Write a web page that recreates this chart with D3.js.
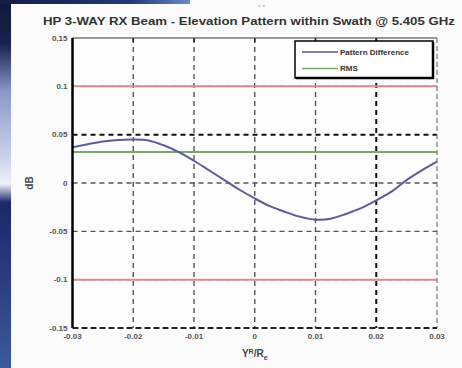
<!DOCTYPE html>
<html>
<head>
<meta charset="utf-8">
<script src="https://cdn.jsdelivr.net/npm/d3@7"></script>
<style>
  body { margin: 0; background: #fbfbfb; }
  text { font-family: "Liberation Sans", Arial, sans-serif; }
</style>
</head>
<body>
<div id="chart"></div>
<script>
// data
const xTicks = [-0.03, -0.02, -0.01, 0, 0.01, 0.02, 0.03];
const yTicks = [-0.15, -0.1, -0.05, 0, 0.05, 0.1, 0.15];
const xValues = [-0.03, -0.0275, -0.025, -0.0225, -0.02, -0.0175, -0.015, -0.0125, -0.01, -0.0075,
  -0.005, -0.0025, 0, 0.0025, 0.005, 0.0075, 0.01, 0.0125, 0.015, 0.0175, 0.02, 0.0225, 0.025, 0.0275, 0.03];
const patternDiff = [0.037, 0.040, 0.043, 0.0445, 0.045, 0.044, 0.039, 0.032, 0.023, 0.013,
  0.003, -0.007, -0.016, -0.024, -0.030, -0.035, -0.038, -0.037, -0.032, -0.026, -0.018, -0.009, 0.003, 0.013, 0.022];
const rmsValue = 0.032;
const limits = [0.1, -0.1];
const legendLabels = ["Pattern Difference", "RMS"];

const width = 462, height = 368;
const margin = { top: 38, right: 25, bottom: 40, left: 72.5 };

const svg = d3.select("#chart").append("svg")
  .attr("width", width)
  .attr("height", height);

// photo background edges (slide behind the plot)
const defs = svg.append("defs");
const lg = defs.append("linearGradient").attr("id", "edge").attr("x1", 0).attr("x2", 0).attr("y1", 0).attr("y2", 1);
[[0, "#101838"], [0.12, "#1a2250"], [0.25, "#8c98c8"], [0.42, "#c8d0e8"], [0.5, "#eef0f8"],
 [0.55, "#1c2868"], [0.75, "#2a3c80"], [1, "#3c5a9c"]].forEach(([o, c]) =>
  lg.append("stop").attr("offset", o).attr("stop-color", c));
const tg = defs.append("linearGradient").attr("id", "topEdge");
[[0, "#141c44"], [0.7, "#243a78"], [1, "#6a8cc8"]].forEach(([o, c]) =>
  tg.append("stop").attr("offset", o).attr("stop-color", c));

svg.append("rect").attr("x", 0).attr("y", 0).attr("width", 11).attr("height", height).attr("fill", "url(#edge)");
svg.append("rect").attr("x", 0).attr("y", 0).attr("width", 190).attr("height", 4).attr("fill", "url(#topEdge)");

const x = d3.scaleLinear().domain([-0.03, 0.03]).range([margin.left, width - margin.right]);
const y = d3.scaleLinear().domain([-0.15, 0.15]).range([height - margin.bottom, margin.top]);

// plot area
svg.append("rect")
  .attr("x", x(-0.03)).attr("y", y(0.15))
  .attr("width", x(0.03) - x(-0.03)).attr("height", y(-0.15) - y(0.15))
  .attr("fill", "#fdfdfd");

// grid
const grid = svg.append("g").attr("class", "grid");
grid.selectAll("line.v")
  .data(xTicks.slice(1, -1))
  .join("line")
    .attr("class", "v")
    .attr("x1", d => x(d)).attr("x2", d => x(d))
    .attr("y1", y(0.15)).attr("y2", y(-0.15))
    .attr("stroke", d => d === 0.02 ? "#111" : "#555")
    .attr("stroke-width", d => d === 0.02 ? 2 : 1.4)
    .attr("stroke-dasharray", "5,4");
grid.selectAll("line.h")
  .data(yTicks.slice(1, -1))
  .join("line")
    .attr("class", "h")
    .attr("x1", x(-0.03)).attr("x2", x(0.03))
    .attr("y1", d => y(d)).attr("y2", d => y(d))
    .attr("stroke", d => d === 0.05 ? "#111" : "#555")
    .attr("stroke-width", d => d === 0.05 ? 2 : 1.4)
    .attr("stroke-dasharray", "5,4");

// limit lines
svg.selectAll("line.limit")
  .data(limits)
  .join("line")
    .attr("class", "limit")
    .attr("x1", x(-0.03)).attr("x2", x(0.03))
    .attr("y1", d => y(d)).attr("y2", d => y(d))
    .attr("stroke", "#e48a8a")
    .attr("stroke-width", 2);

// RMS line
svg.append("line")
  .attr("x1", x(-0.03)).attr("x2", x(0.03))
  .attr("y1", y(rmsValue)).attr("y2", y(rmsValue))
  .attr("stroke", "#78a86c")
  .attr("stroke-width", 2);

// pattern difference curve
const line = d3.line()
  .x((d, i) => x(xValues[i]))
  .y(d => y(d))
  .curve(d3.curveCatmullRom);
svg.append("path")
  .datum(patternDiff)
  .attr("d", line)
  .attr("fill", "none")
  .attr("stroke", "#5c5c9c")
  .attr("stroke-width", 2);

// axes frame
svg.append("line").attr("x1", x(-0.03)).attr("x2", x(0.03)).attr("y1", y(0.15)).attr("y2", y(0.15))
  .attr("stroke", "#777").attr("stroke-width", 1.5);
svg.append("line").attr("x1", x(0.03)).attr("x2", x(0.03)).attr("y1", y(0.15)).attr("y2", y(-0.15))
  .attr("stroke", "#777").attr("stroke-width", 1.2).attr("stroke-dasharray", "5,3");
svg.append("line").attr("x1", x(-0.03)).attr("x2", x(0.03)).attr("y1", y(-0.15)).attr("y2", y(-0.15))
  .attr("stroke", "#222").attr("stroke-width", 2.2).attr("stroke-dasharray", "6,3");
svg.append("line").attr("x1", x(-0.03)).attr("x2", x(-0.03)).attr("y1", y(0.15)).attr("y2", y(-0.15))
  .attr("stroke", "#000").attr("stroke-width", 2.5);

// tick marks on top
svg.selectAll("line.ttick")
  .data(xTicks.slice(1, -1))
  .join("line")
    .attr("class", "ttick")
    .attr("x1", d => x(d)).attr("x2", d => x(d))
    .attr("y1", y(0.15)).attr("y2", y(0.15) + 4)
    .attr("stroke", "#222").attr("stroke-width", 1.5);

// tick labels
const fmt = d => d === 0 ? "0" : String(d);
svg.selectAll("text.ylab")
  .data(yTicks)
  .join("text")
    .attr("class", "ylab")
    .attr("x", x(-0.03) - 5)
    .attr("y", d => y(d))
    .attr("dy", "0.35em")
    .attr("text-anchor", "end")
    .attr("font-size", 8)
    .attr("font-weight", "bold")
    .attr("fill", "#555")
    .text(fmt);
svg.selectAll("text.xlab")
  .data(xTicks)
  .join("text")
    .attr("class", "xlab")
    .attr("x", d => x(d))
    .attr("y", y(-0.15) + 11)
    .attr("text-anchor", "middle")
    .attr("font-size", 8)
    .attr("font-weight", "bold")
    .attr("fill", "#555")
    .text(fmt);

// axis titles
const xt = svg.append("text")
  .attr("x", x(0))
  .attr("y", y(-0.15) + 29)
  .attr("text-anchor", "middle")
  .attr("font-size", 10)
  .attr("font-weight", "bold")
  .attr("fill", "#444");
xt.append("tspan").text("Y");
xt.append("tspan").attr("dy", -3).attr("font-size", 7).text("R");
xt.append("tspan").attr("dy", 3).text("/R");
xt.append("tspan").attr("dy", 3).attr("font-size", 7).text("e");

svg.append("text")
  .attr("transform", `translate(33, ${y(0)}) rotate(-90)`)
  .attr("text-anchor", "middle")
  .attr("font-size", 10)
  .attr("font-weight", "bold")
  .attr("fill", "#444")
  .text("dB");

// title
svg.append("text")
  .attr("x", 43)
  .attr("y", 25)
  .attr("font-size", 11.5)
  .attr("font-weight", "bold")
  .attr("fill", "#333")
  .attr("textLength", 412)
  .attr("lengthAdjust", "spacingAndGlyphs")
  .text("HP 3-WAY RX Beam - Elevation Pattern within Swath @ 5.405 GHz");

// small marks above title
svg.append("text").attr("x", 258).attr("y", 8).attr("font-size", 7).attr("fill", "#bbb").text("\u25AA \u25AA");

// legend
const legend = svg.append("g").attr("transform", `translate(295, ${y(0.15) + 3})`);
legend.append("rect")
  .attr("width", 138).attr("height", 37)
  .attr("fill", "#fff")
  .attr("stroke", "#000").attr("stroke-width", 1.5);
legend.append("line").attr("x1", 138).attr("x2", 138).attr("y1", 1).attr("y2", 38)
  .attr("stroke", "#000").attr("stroke-width", 2.5);
legend.append("line").attr("x1", 1).attr("x2", 139).attr("y1", 37).attr("y2", 37)
  .attr("stroke", "#000").attr("stroke-width", 2.5);
const legendColors = ["#5c5c9c", "#78a86c"];
const items = legend.selectAll("g.item")
  .data(legendLabels)
  .join("g")
    .attr("class", "item")
    .attr("transform", (d, i) => `translate(0, ${11 + i * 16.5})`);
items.append("line")
  .attr("x1", 7).attr("x2", 43)
  .attr("stroke", (d, i) => legendColors[i])
  .attr("stroke-width", 1.5);
items.append("text")
  .attr("x", 45)
  .attr("dy", "0.35em")
  .attr("font-size", 8)
  .attr("font-weight", "bold")
  .attr("fill", "#333")
  .text(d => d);
</script>
</body>
</html>
